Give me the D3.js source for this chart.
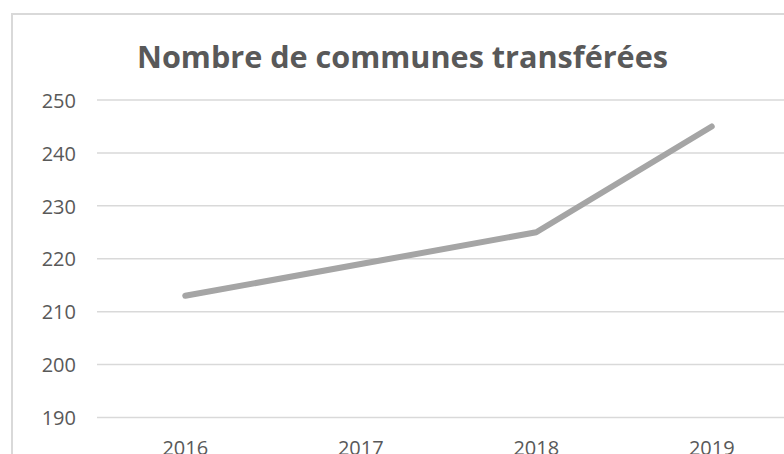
<!DOCTYPE html>
<html>
<head>
<meta charset="utf-8">
<script src="https://cdn.jsdelivr.net/npm/d3@7"></script>
<style>
  html, body { margin: 0; padding: 0; background: #ffffff; overflow: hidden; }
  svg { display: block; }
</style>
</head>
<body>
<svg id="chart" width="784" height="454"></svg>
<script>
// Data
const years = ["2016", "2017", "2018", "2019"];
const communes = [213, 219, 225, 245];
const yTicks = [190, 200, 210, 220, 230, 240, 250];
const chartTitle = "Nombre de communes transférées";

const svg = d3.select("#chart");
const textColor = "#595959";
const gridColor = "#d9d9d9";
const lineColor = "#a5a5a5";
const fontFamily = "'Open Sans', 'Noto Sans', sans-serif";

// Chart frame (extends past the visible area on the right and bottom)
svg.append("rect")
  .attr("x", 12).attr("y", 14)
  .attr("width", 900).attr("height", 600)
  .attr("fill", "#ffffff")
  .attr("stroke", gridColor)
  .attr("stroke-width", 2);

// Scales
const x = d3.scaleBand().domain(years).range([97.5, 799.5]);
const y = d3.scaleLinear().domain([190, 250]).range([417.5, 100]);

// Horizontal gridlines
svg.append("g")
  .selectAll("line")
  .data(yTicks)
  .join("line")
  .attr("x1", 97).attr("x2", 800)
  .attr("y1", d => y(d)).attr("y2", d => y(d))
  .attr("stroke", gridColor)
  .attr("stroke-width", 1.5);

// Y axis labels
const yAxis = d3.axisLeft(y).tickValues(yTicks).tickSize(0).tickPadding(0);
const gy = svg.append("g").attr("transform", "translate(76,0)").call(yAxis);
gy.select(".domain").remove();
gy.selectAll("text")
  .attr("fill", textColor)
  .style("font-family", fontFamily)
  .style("font-size", "20px")
  .attr("dy", "0.36em");

// X axis labels
const xAxis = d3.axisBottom(x).tickSize(0).tickPadding(0);
const gx = svg.append("g").attr("transform", "translate(0,441)").call(xAxis);
gx.select(".domain").remove();
gx.selectAll("text")
  .attr("fill", textColor)
  .style("font-family", fontFamily)
  .style("font-size", "20px")
  .attr("dy", "0.72em");

// Line series
const line = d3.line()
  .x((d, i) => x(years[i]) + x.bandwidth() / 2)
  .y(d => y(d));

svg.append("path")
  .datum(communes)
  .attr("d", line)
  .attr("fill", "none")
  .attr("stroke", lineColor)
  .attr("stroke-width", 6)
  .attr("stroke-linecap", "round")
  .attr("stroke-linejoin", "round");

// Title
svg.append("text")
  .attr("x", 137).attr("y", 68)
  .attr("fill", textColor)
  .style("font-family", fontFamily)
  .style("font-weight", "bold")
  .style("font-size", "31px")
  .attr("textLength", 531)
  .attr("lengthAdjust", "spacingAndGlyphs")
  .text(chartTitle);
</script>
</body>
</html>
